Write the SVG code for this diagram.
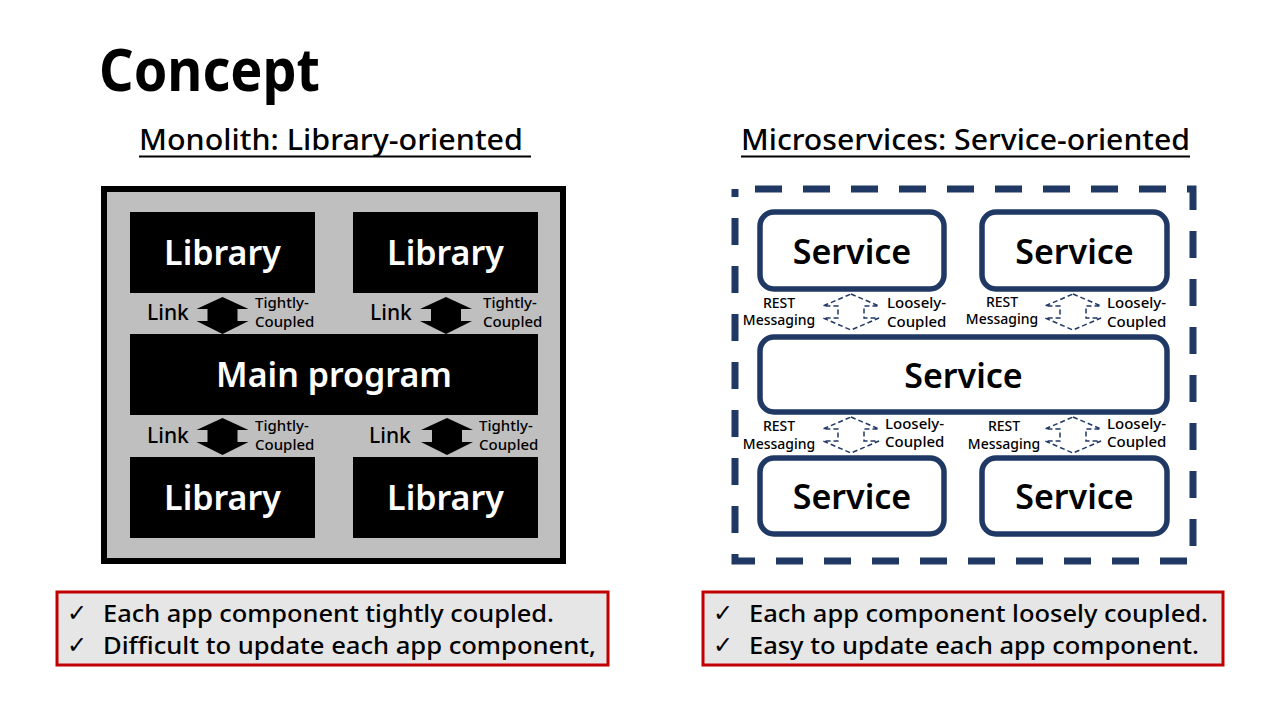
<svg xmlns="http://www.w3.org/2000/svg" width="1280" height="720" viewBox="0 0 1280 720">
<style>
text{font-family:"Noto Sans","Open Sans","Liberation Sans",sans-serif;font-weight:500}
.title{font-size:60px;font-weight:700;fill:#000}
.lib{fill:#000}
.libt{fill:#fff;font-size:34px;text-anchor:middle;font-weight:600}
.svc{fill:#fff;stroke:#203864;stroke-width:5.5}
.svct{fill:#000;font-size:34px;text-anchor:middle;font-weight:600}
.sm{font-size:15px;fill:#000}
.sm14{font-size:14px;fill:#000;text-anchor:middle}
.link{font-size:21px;fill:#000}
.arr{fill:#000}
.darr{fill:#fff;stroke:#203864;stroke-width:1.5;stroke-dasharray:5 3}
.note{fill:#E7E6E6;stroke:#C00000;stroke-width:3}
.nt{font-size:24px;fill:#000}
.ck{font-family:"DejaVu Sans",sans-serif;font-size:24px;fill:#000;font-weight:normal}
.hd{font-size:28px;fill:#000}
</style>
<defs>
<polygon id="ua" points="0,0 26,12 15,12 15,24 26,24 0,37 -26,24 -15,24 -15,12 -26,12"/>
<polygon id="da" points="0,0 28,12 13,12 13,24 28,24 0,36 -28,24 -13,24 -13,12 -28,12"/>
</defs>
<rect width="1280" height="720" fill="#fff"/>
<text class="title" x="99" y="91" textLength="221" lengthAdjust="spacingAndGlyphs">Concept</text>

<g id="heading-left">
<text class="hd" x="139" y="150" textLength="384" lengthAdjust="spacingAndGlyphs">Monolith: Library-oriented</text>
<line x1="139" y1="156.5" x2="531" y2="156.5" stroke="#000" stroke-width="2"/>
</g>
<g id="heading-right">
<text class="hd" x="741" y="150" textLength="449" lengthAdjust="spacingAndGlyphs">Microservices: Service-oriented</text>
<line x1="741" y1="156.5" x2="1190" y2="156.5" stroke="#000" stroke-width="2"/>
</g>

<g id="monolith">
<rect x="104" y="189" width="459" height="372" fill="#BFBFBF" stroke="#000" stroke-width="6"/>
</g>
<g id="lib-tl"><rect class="lib" x="130" y="212" width="185" height="81"/><text class="libt" x="222.5" y="265">Library</text></g>
<g id="lib-tr"><rect class="lib" x="353" y="212" width="185" height="81"/><text class="libt" x="445.5" y="265">Library</text></g>
<g id="main"><rect class="lib" x="130" y="334" width="408" height="81"/><text class="libt" x="334" y="387">Main program</text></g>
<g id="lib-bl"><rect class="lib" x="130" y="457" width="185" height="81"/><text class="libt" x="222.5" y="510">Library</text></g>
<g id="lib-br"><rect class="lib" x="353" y="457" width="185" height="81"/><text class="libt" x="445.5" y="510">Library</text></g>

<g id="microservices">
<path d="M735,189 H1193 V561 H735 Z" fill="none" stroke="#203864" stroke-width="7" stroke-dasharray="27 21" stroke-dashoffset="28"/>
</g>
<g id="svc-tl"><rect class="svc" x="760" y="212" width="184" height="77" rx="14"/><text class="svct" x="852" y="264">Service</text></g>
<g id="svc-tr"><rect class="svc" x="982" y="212" width="185" height="77" rx="14"/><text class="svct" x="1074.5" y="264">Service</text></g>
<g id="svc-m"><rect class="svc" x="760" y="337" width="407" height="75" rx="14"/><text class="svct" x="963.5" y="388">Service</text></g>
<g id="svc-bl"><rect class="svc" x="760" y="458" width="184" height="76" rx="14"/><text class="svct" x="852" y="509">Service</text></g>
<g id="svc-br"><rect class="svc" x="982" y="458" width="185" height="76" rx="14"/><text class="svct" x="1074.5" y="509">Service</text></g>

<g id="connectors">
<use href="#ua" class="arr" x="222.5" y="297"/>
<use href="#ua" class="arr" x="446" y="297"/>
<use href="#ua" class="arr" x="222.5" y="418"/>
<use href="#ua" class="arr" x="447" y="418"/>
<use href="#da" class="darr" x="851" y="294"/>
<use href="#da" class="darr" x="1073" y="294"/>
<use href="#da" class="darr" x="851" y="417"/>
<use href="#da" class="darr" x="1073" y="417"/>
</g>

<g id="labels-left">
<text class="link" x="147" y="320">Link</text>
<text class="sm" x="255" y="308">Tightly-</text>
<text class="sm" x="255" y="327">Coupled</text>
<text class="link" x="370" y="320">Link</text>
<text class="sm" x="483" y="308">Tightly-</text>
<text class="sm" x="483" y="327">Coupled</text>
<text class="link" x="147" y="443">Link</text>
<text class="sm" x="255" y="431">Tightly-</text>
<text class="sm" x="255" y="450">Coupled</text>
<text class="link" x="369" y="443">Link</text>
<text class="sm" x="479" y="431">Tightly-</text>
<text class="sm" x="479" y="450">Coupled</text>
</g>
<g id="labels-right">
<text class="sm14" x="779" y="308">REST</text>
<text class="sm14" x="779" y="325">Messaging</text>
<text class="sm" x="887" y="308">Loosely-</text>
<text class="sm" x="887" y="327">Coupled</text>
<text class="sm14" x="1002" y="307">REST</text>
<text class="sm14" x="1002" y="324">Messaging</text>
<text class="sm" x="1107" y="308">Loosely-</text>
<text class="sm" x="1107" y="327">Coupled</text>
<text class="sm14" x="779" y="431">REST</text>
<text class="sm14" x="779" y="449">Messaging</text>
<text class="sm" x="885" y="429">Loosely-</text>
<text class="sm" x="885" y="447">Coupled</text>
<text class="sm14" x="1004" y="431">REST</text>
<text class="sm14" x="1004" y="449">Messaging</text>
<text class="sm" x="1107" y="429">Loosely-</text>
<text class="sm" x="1107" y="447">Coupled</text>
</g>

<g id="note-left">
<rect class="note" x="57" y="592" width="551" height="73"/>
<text class="ck" x="67" y="621">✓</text>
<text class="nt" x="103" y="622" textLength="451" lengthAdjust="spacingAndGlyphs">Each app component tightly coupled.</text>
<text class="ck" x="67" y="653">✓</text>
<text class="nt" x="103" y="654" textLength="493" lengthAdjust="spacingAndGlyphs">Difficult to update each app component,</text>
</g>
<g id="note-right">
<rect class="note" x="703" y="592" width="520" height="73"/>
<text class="ck" x="713" y="621">✓</text>
<text class="nt" x="749" y="622" textLength="459" lengthAdjust="spacingAndGlyphs">Each app component loosely coupled.</text>
<text class="ck" x="713" y="653">✓</text>
<text class="nt" x="749" y="654" textLength="450" lengthAdjust="spacingAndGlyphs">Easy to update each app component.</text>
</g>
</svg>
